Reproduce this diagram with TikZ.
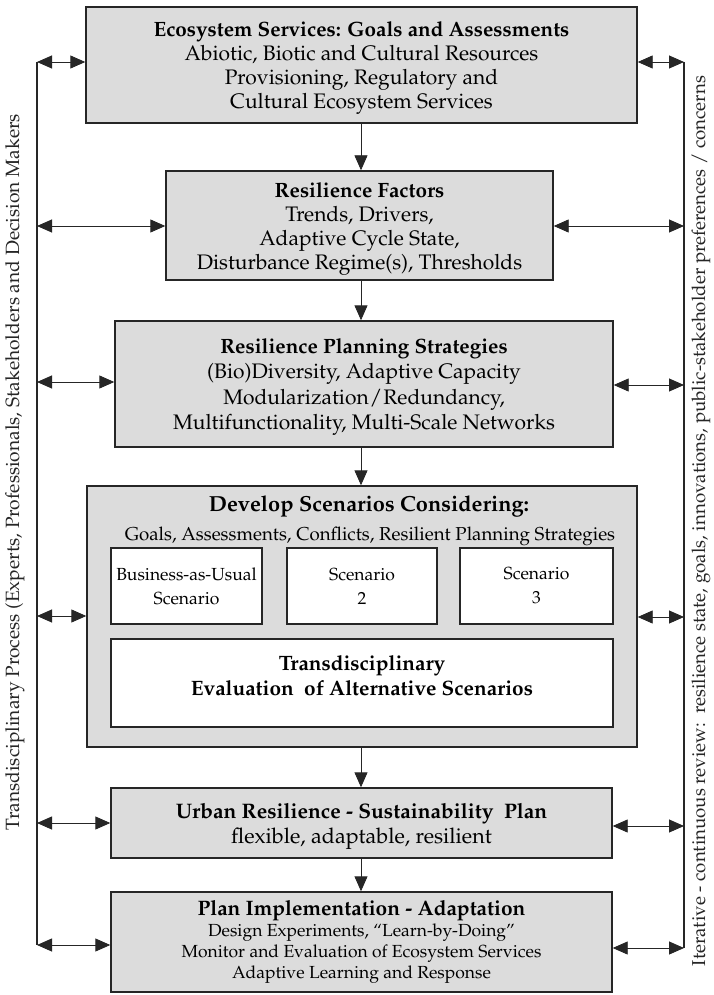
\documentclass[tikz,border=0pt]{standalone}
\usepackage[T1]{fontenc}
\usepackage{mathpazo}
\usetikzlibrary{arrows.meta}
\definecolor{boxgray}{HTML}{DCDCDC}
\definecolor{edge}{HTML}{262626}
% bold heading line of a grey box; the strut lowers the text block a little
\newcommand{\boxhead}[1]{{\fontsize{20.7}{24}\selectfont\bfseries\rule{0pt}{21pt}#1}}
\tikzset{
  gbox/.style={draw=edge, line width=1.4pt, fill=boxgray, align=center,
    inner sep=0pt, font=\fontsize{21}{24}\selectfont},
  wbox/.style={draw=edge, line width=1.2pt, fill=white, align=center, inner sep=0pt},
  link/.style={line width=0.9pt, draw=edge,
    {Triangle[length=15pt,width=13pt]}-{Triangle[length=15pt,width=13pt]}},
  flow/.style={line width=0.9pt, draw=edge, -{Triangle[length=15pt,width=13pt]}},
  rail/.style={line width=1.6pt, draw=edge},
  sidetext/.style={rotate=90, inner sep=0pt, text=edge},
}
\begin{document}
\begin{tikzpicture}[x=1pt,y=-1pt]
\path[fill=white] (0,0) rectangle (714,995);
\useasboundingbox (0,0) rectangle (714,995);

% main column of boxes
\node[gbox, minimum width=551pt, minimum height=116pt] (es) at (361.5,65)
  {\boxhead{Ecosystem Services: Goals and Assessments}\\
   Abiotic, Biotic and Cultural Resources\\
   Provisioning, Regulatory and\\
   Cultural Ecosystem Services};
\node[gbox, minimum width=387pt, minimum height=109pt] (rf) at (359.5,225.5)
  {\boxhead{Resilience Factors}\\
   Trends, Drivers,\\
   Adaptive Cycle State,\\
   Disturbance Regime(s), Thresholds};
\node[gbox, minimum width=498pt, minimum height=126pt,
  font=\fontsize{21}{25.3}\selectfont] (rp) at (364,384)
  {\boxhead{Resilience Planning Strategies}\\
   (Bio)Diversity, Adaptive Capacity\\
   Modularization\kern1pt/\kern1pt Redundancy,\\
   Multifunctionality, Multi-Scale Networks};

% scenario development block
\node[gbox, minimum width=550pt, minimum height=261pt] (ds) at (362,616.5) {};
\node[inner sep=0pt, font=\fontsize{21.8}{24}\selectfont\bfseries] (dstitle) at (369,506)
  {Develop Scenarios Considering:};
\node[inner sep=0pt, font=\fontsize{18.7}{22}\selectfont] (dsgoals) at (370,536)
  {Goals, Assessments, Conflicts, Resilient Planning Strategies};
\node[wbox, minimum width=151pt, minimum height=76pt,
  font=\fontsize{17.5}{24}\selectfont] (bau) at (186.5,586)
  {Business-as-Usual\\Scenario};
\node[wbox, minimum width=150pt, minimum height=76pt,
  font=\fontsize{17.5}{24}\selectfont] (sc2) at (362,586) {Scenario\\2};
\node[wbox, minimum width=153pt, minimum height=76pt,
  font=\fontsize{17.5}{24}\selectfont] (sc3) at (536.5,586) {Scenario\\3};
\node[wbox, minimum width=502pt, minimum height=88pt] (ev) at (362,683) {};
\node[inner sep=0pt, align=center, font=\fontsize{20.8}{25}\selectfont\bfseries]
  (evtext) at (362,676)
  {Transdisciplinary\\Evaluation\ \ of Alternative Scenarios};

\node[gbox, minimum width=501pt, minimum height=70pt,
  font=\fontsize{21.5}{25}\selectfont] (up) at (361.5,823)
  {{\fontsize{21}{25}\selectfont\bfseries\rule{0pt}{22pt}Urban Resilience - Sustainability\ \ Plan}\\
   flexible, adaptable, resilient};
\node[gbox, minimum width=501pt, minimum height=100pt,
  font=\fontsize{17.5}{21}\selectfont] (pi) at (361.5,942)
  {{\fontsize{20.9}{22}\selectfont\bfseries Plan Implementation - Adaptation}\\
   Design Experiments, ``Learn-by-Doing''\\
   Monitor and Evaluation of Ecosystem Services\\
   Adaptive Learning and Response};

% downward flow
\draw[flow] (es.south -| 361,0) -- (rf.north -| 361,0);
\draw[flow] (rf.south -| 361,0) -- (rp.north -| 361,0);
\draw[flow] (rp.south -| 361,0) -- (ds.north -| 361,0);
\draw[flow] (ds.south -| 361,0) -- (up.north -| 361,0);
\draw[flow] (up.south -| 361,0) -- (pi.north -| 361,0);

% side rails
\coordinate (L1) at (37,62);  \coordinate (R1) at (684,62);
\coordinate (L2) at (37,226); \coordinate (R2) at (684,226);
\coordinate (L3) at (37,382); \coordinate (R3) at (684,385);
\coordinate (L4) at (37,616); \coordinate (R4) at (684,617);
\coordinate (L5) at (37,823); \coordinate (R5) at (684,826);
\coordinate (L6) at (37,945); \coordinate (R6) at (684,948);
\draw[rail] (L1) -- (L6);
\draw[rail] (R1) -- (R6);

\draw[link] (L1) -- (L1 -| es.west);
\draw[link] (L2) -- (L2 -| rf.west);
\draw[link] (L3) -- (L3 -| rp.west);
\draw[link] (L4) -- (L4 -| ds.west);
\draw[link] (L5) -- (L5 -| up.west);
\draw[link] (L6) -- (L6 -| pi.west);
\draw[link] (R1 -| es.east) -- (R1);
\draw[link] (R2 -| rf.east) -- (R2);
\draw[link] (R3 -| rp.east) -- (R3);
\draw[link] (R4 -| ds.east) -- (R4);
\draw[link] (R5 -| up.east) -- (R5);
\draw[link] (R6 -| pi.east) -- (R6);

% rotated side captions
\node[sidetext, font=\fontsize{19.2}{20}\selectfont] (lcap) at (15,472)
  {Transdisciplinary Process (Experts, Professionals, Stakeholders and Decision Makers};
\node[sidetext, font=\fontsize{18.7}{20}\selectfont] (rcap) at (701,521)
  {Iterative - continuous review:\ \ resilience state, goals, innovations, public-stakeholder preferences / concerns};
\end{tikzpicture}
\end{document}
